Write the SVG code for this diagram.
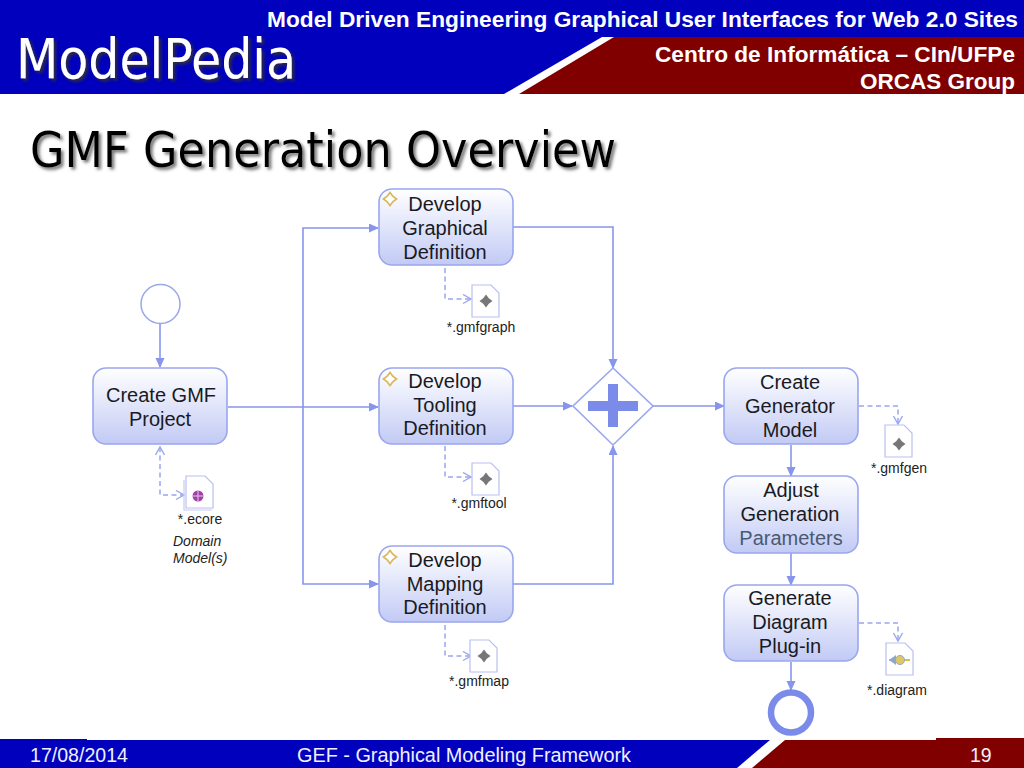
<svg xmlns="http://www.w3.org/2000/svg" width="1024" height="768" viewBox="0 0 1024 768">
<style>
text{font-family:"Liberation Sans",Arial,sans-serif;fill:#1a1a22}
.n{font-size:20px;text-anchor:middle}
.f{font-size:14px;text-anchor:middle;fill:#222}
.h{font-weight:bold;fill:#fff;text-anchor:end}
.ft{font-size:19.500px;fill:#f0f0ff}
.box{fill:url(#g);stroke:#9aa6ee;stroke-width:1.600}
.c{fill:none;stroke:#8795ec;stroke-width:1.600}
.d{fill:none;stroke:#9aa6ee;stroke-width:1.500;stroke-dasharray:5 3.500}
.doc{fill:#fff;stroke:#b9c0f0;stroke-width:1.200}
.t{font-family:"DejaVu Sans","Noto Sans",sans-serif}
</style>
<defs>
<linearGradient id="g" x1="0" y1="0" x2="0" y2="1"><stop offset="0" stop-color="#fff"/><stop offset="1" stop-color="#c2caf5"/></linearGradient>
<marker id="a" markerWidth="12" markerHeight="10" refX="9" refY="4.500" orient="auto" markerUnits="userSpaceOnUse"><path d="M0 0L10 4.500L0 9Z" fill="#8795ec"/></marker>
<marker id="o" markerWidth="12" markerHeight="12" refX="9" refY="5.500" orient="auto-start-reverse" markerUnits="userSpaceOnUse"><path d="M1 1L9 5.500L1 10" fill="none" stroke="#9aa6ee" stroke-width="1.400"/></marker>
<filter id="s1" x="-5%" y="-10%" width="115%" height="130%"><feDropShadow dx="2.500" dy="2.500" stdDeviation="1.500" flood-color="#333" flood-opacity=".9"/></filter>
<filter id="s2" x="-5%" y="-10%" width="115%" height="130%"><feDropShadow dx="2.500" dy="2.500" stdDeviation="1.500" flood-color="#666" flood-opacity=".9"/></filter>
<path id="star" d="M0 -6.500L2.800 -2.800L6.500 0L2.800 2.800L0 6.500L-2.800 2.800L-6.500 0L-2.800 -2.800Z"/>
<path id="page" d="M0 0H19L27 8V32H0Z"/>
</defs>
<rect width="1024" height="768" fill="#fff"/>
<g id="header">
<rect width="1024" height="94" fill="#0000bd"/>
<path d="M504 94L602 37H1024V94Z" fill="#fff"/>
<path d="M519 94L614 37H1024V94Z" fill="#800000"/>
<text class="h" x="1018" y="27" font-size="22.500" textLength="751" lengthAdjust="spacingAndGlyphs">Model Driven Engineering Graphical User Interfaces for Web 2.0 Sites</text>
<text class="h" x="1015" y="62" font-size="22" textLength="360" lengthAdjust="spacingAndGlyphs">Centro de Informática – CIn/UFPe</text>
<text class="h" x="1015" y="89" font-size="22" textLength="155" lengthAdjust="spacingAndGlyphs">ORCAS Group</text>
<text class="t" x="16" y="78" font-size="56" textLength="280" lengthAdjust="spacingAndGlyphs" style="fill:#fff" filter="url(#s1)">ModelPedia</text>
</g>
<text class="t" x="30" y="167" font-size="49" textLength="586" lengthAdjust="spacingAndGlyphs" style="fill:#000" filter="url(#s2)">GMF Generation Overview</text>
<g id="footer">
<rect x="0" y="739" width="87" height="3" fill="#0000bd"/>
<rect x="936" y="738" width="88" height="3" fill="#800000"/>
<path d="M0 740H770L737 768H0Z" fill="#0000bd"/>
<path d="M752 768L785 740H1024V768Z" fill="#800000"/>
<text class="ft" x="30" y="762" textLength="98" lengthAdjust="spacingAndGlyphs">17/08/2014</text>
<text class="ft" x="297" y="762" textLength="334" lengthAdjust="spacingAndGlyphs">GEF - Graphical Modeling Framework</text>
<text class="ft" x="970" y="762">19</text>
</g>
<g id="connectors">
<path class="c" d="M160 323V367" marker-end="url(#a)"/>
<path class="c" d="M228 407H378" marker-end="url(#a)"/>
<path class="c" d="M303 407V228H378" marker-end="url(#a)"/>
<path class="c" d="M303 407V584H378" marker-end="url(#a)"/>
<path class="c" d="M513 227H613V368" marker-end="url(#a)"/>
<path class="c" d="M513 406H572" marker-end="url(#a)"/>
<path class="c" d="M513 584H613V446" marker-end="url(#a)"/>
<path class="c" d="M653 406H724" marker-end="url(#a)"/>
<path class="c" d="M791 445V476" marker-end="url(#a)"/>
<path class="c" d="M791 553V585" marker-end="url(#a)"/>
<path class="c" d="M791 662V690" marker-end="url(#a)"/>
<path class="d" d="M160 447V495H184" marker-start="url(#o)" marker-end="url(#o)"/>
<path class="d" d="M445 268V299H471" marker-end="url(#o)"/>
<path class="d" d="M445 446V477H471" marker-end="url(#o)"/>
<path class="d" d="M445 625V656H471" marker-end="url(#o)"/>
<path class="d" d="M859 406H898V424" marker-end="url(#o)"/>
<path class="d" d="M859 623H898V641" marker-end="url(#o)"/>
</g>
<g id="start"><circle cx="160.500" cy="304" r="19.500" fill="#fff" stroke="#9aa6ee" stroke-width="1.500"/></g>
<g id="create-gmf"><rect class="box" x="93" y="368" width="134" height="76" rx="13"/><text class="n" x="161" y="402">Create GMF</text><text class="n" x="160" y="426">Project</text></g>
<g id="ecore"><path d="M184 480V510H212" fill="none" stroke="#c6ccf3" stroke-width="1.200"/><use href="#page" x="186" y="476" class="doc"/><circle cx="198" cy="496" r="5.500" fill="#a040a8"/><path d="M198 490V502M192 496H204" stroke="#e8c8ec" stroke-width="1"/><text class="f" x="200" y="524">*.ecore</text><text class="f" x="173" y="546" style="text-anchor:start;font-style:italic">Domain</text><text class="f" x="173" y="563" style="text-anchor:start;font-style:italic">Model(s)</text></g>
<g id="graphical"><rect class="box" x="379" y="189" width="134" height="76" rx="13"/><use href="#star" x="390" y="199" fill="#fff" stroke="#d9b860" stroke-width="1.800"/><text class="n" x="445" y="211">Develop</text><text class="n" x="445" y="235">Graphical</text><text class="n" x="445" y="259">Definition</text></g>
<g id="gmfgraph"><use href="#page" x="472" y="285" class="doc"/><use href="#star" x="486" y="301" fill="#777"/><text class="f" x="481" y="332">*.gmfgraph</text></g>
<g id="tooling"><rect class="box" x="379" y="368" width="134" height="76" rx="13"/><use href="#star" x="390" y="379" fill="#fff" stroke="#d9b860" stroke-width="1.800"/><text class="n" x="445" y="388">Develop</text><text class="n" x="445" y="412">Tooling</text><text class="n" x="445" y="435">Definition</text></g>
<g id="gmftool"><use href="#page" x="472" y="463" class="doc"/><use href="#star" x="486" y="479" fill="#777"/><text class="f" x="479" y="508">*.gmftool</text></g>
<g id="mapping"><rect class="box" x="379" y="546" width="134" height="76" rx="13"/><use href="#star" x="390" y="557" fill="#fff" stroke="#d9b860" stroke-width="1.800"/><text class="n" x="445" y="567">Develop</text><text class="n" x="445" y="591">Mapping</text><text class="n" x="445" y="614">Definition</text></g>
<g id="gmfmap"><use href="#page" x="470" y="640" class="doc"/><use href="#star" x="484" y="656" fill="#777"/><text class="f" x="479" y="686">*.gmfmap</text></g>
<g id="gateway"><path d="M613 368L653 406L613 445L573 406Z" fill="#fff" stroke="#9aa6ee" stroke-width="1.600"/><path d="M608 384H618V401H638V411H618V427H608V411H588V401H608Z" fill="#7b8bea"/></g>
<g id="create-gen"><rect class="box" x="724" y="368" width="134" height="76" rx="13"/><text class="n" x="790" y="389">Create</text><text class="n" x="790" y="413">Generator</text><text class="n" x="790" y="437">Model</text></g>
<g id="gmfgen"><use href="#page" x="885" y="425" class="doc"/><use href="#star" x="899" y="444" fill="#777"/><text class="f" x="899" y="473">*.gmfgen</text></g>
<g id="adjust"><rect class="box" x="724" y="476" width="134" height="77" rx="13"/><text class="n" x="791" y="497">Adjust</text><text class="n" x="790" y="521">Generation</text><text class="n" x="791" y="545" style="fill:#4a5a70">Parameters</text></g>
<g id="generate"><rect class="box" x="724" y="585" width="134" height="76" rx="13"/><text class="n" x="790" y="605">Generate</text><text class="n" x="790" y="629">Diagram</text><text class="n" x="790" y="653">Plug-in</text></g>
<g id="diagram"><use href="#page" x="886" y="643" class="doc"/><path d="M889 660H910" stroke="#d8c040" stroke-width="2"/><path d="M889 660L896 655V665Z" fill="#8fa8c8"/><circle cx="900" cy="660" r="4.500" fill="#e0c860" stroke="#8fa8c8"/><text class="f" x="897" y="695">*.diagram</text></g>
<g id="end"><circle cx="791" cy="712.500" r="20" fill="#fff" stroke="#7b8bea" stroke-width="6.500"/></g>
</svg>
